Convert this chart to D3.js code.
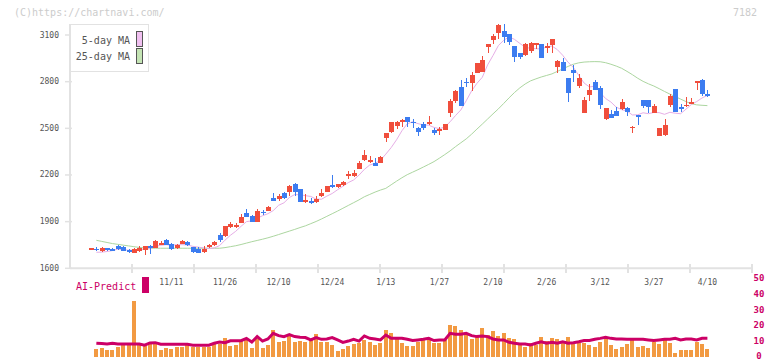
<!DOCTYPE html>
<html><head><meta charset="utf-8">
<script src="https://cdn.jsdelivr.net/npm/d3@7"></script>
<style>body{margin:0;background:#fff}svg{display:block}text{font-family:"DejaVu Sans Mono",monospace}</style>
</head><body><svg id="c" width="772" height="361"></svg>
<script>
// ---- data ----
const openP = [1727,1726,1713,1730,1724,1743,1735,1720,1700,1711, 1718,1741,1730,1756,1782,1756,1730,1756,1767,1737,
 1726,1705,1737,1750,1816,1808,1867,1865,1893,1955, 1936,1896,1962,1970,2054,2046,2084,2089,2142,2110,
 2028,2035,2028,2065,2093,2138,2125,2138,2195,2193, 2238,2296,2290,2279,2279,2438,2476,2517,2539,2571,
 2541,2504,2528,2526,2489,2485,2489,2601,2676,2766, 2799,2793,2858,2860,3025,3068,3111,3126,3107,3029,
 2987,2972,2997,3040,3042,3022,3036,2896,2928,2824, 2875,2774,2601,2714,2800,2761,2558,2592,2611,2622,
 2629,2505,2586,2682,2682,2601,2453,2457,2650,2753, 2636,2646,2663,2790,2811,2719];
const highP = [1731,1735,1739,1732,1728,1750,1743,1726,1733,1741, 1743,1750,1780,1775,1786,1760,1758,1779,1775,1737,
 1737,1741,1758,1777,1825,1872,1898,1893,1951,1983, 1940,1981,1975,2000,2084,2076,2092,2138,2148,2112,
 2076,2052,2067,2110,2131,2200,2142,2161,2224,2232, 2288,2361,2322,2309,2320,2470,2541,2547,2560,2571,
 2560,2510,2539,2579,2504,2510,2528,2689,2746,2811, 2826,2860,2920,2965,3042,3107,3171,3171,3107,3029,
 2987,3047,3055,3047,3042,3047,3072,2939,2954,2824, 2907,2847,2701,2785,2811,2772,2633,2618,2639,2689,
 2639,2515,2586,2682,2682,2656,2504,2560,2719,2753, 2656,2699,2693,2806,2817,2746];
const lowP = [1725,1713,1707,1713,1716,1720,1711,1697,1700,1707, 1686,1692,1730,1750,1748,1720,1724,1754,1741,1701,
 1698,1698,1733,1745,1769,1803,1857,1857,1893,1928, 1896,1896,1943,1966,2032,2035,2046,2067,2067,2026,
 2022,2015,2022,2058,2091,2118,2116,2131,2174,2187, 2238,2292,2275,2258,2277,2412,2470,2498,2510,2510,
 2500,2451,2491,2519,2457,2457,2487,2575,2661,2646, 2768,2742,2858,2860,2987,3042,3072,3051,3038,2928,
 2944,2968,2987,3008,2950,2987,2987,2854,2871,2671, 2800,2757,2601,2677,2746,2622,2554,2564,2577,2618,
 2581,2468,2521,2629,2597,2601,2448,2453,2639,2607, 2605,2635,2656,2746,2710,2699];
const closeP = [1729,1722,1730,1717,1721,1726,1713,1703,1724,1730, 1743,1730,1775,1760,1750,1726,1750,1775,1750,1705,
 1700,1726,1752,1771,1782,1872,1885,1878,1932,1932, 1900,1968,1958,1996,2035,2067,2050,2129,2089,2028,
 2041,2022,2046,2084,2129,2123,2142,2155,2206,2213, 2279,2328,2294,2260,2316,2470,2541,2541,2554,2539,
 2537,2478,2504,2541,2468,2498,2528,2676,2740,2646, 2794,2843,2920,2939,3042,3094,3164,3089,3053,2961,
 2961,3042,3051,3047,2950,3027,3072,2932,2871,2725, 2854,2824,2682,2747,2746,2650,2633,2568,2581,2669,
 2603,2509,2575,2643,2639,2643,2504,2521,2708,2607, 2631,2650,2667,2806,2721,2714];
const ma5 = [null,1703,1704,1708,1714,1723,1721,1716,1717,1719, 1723,1726,1740,1748,1752,1748,1752,1752,1750,1741,
 1736,1731,1727,1731,1746,1781,1812,1838,1870,1900, 1905,1922,1938,1951,1971,2005,2021,2055,2074,2073,
 2067,2062,2045,2044,2064,2081,2105,2127,2151,2168, 2199,2236,2264,2275,2295,2334,2376,2426,2484,2529,
 2542,2530,2522,2520,2506,2498,2508,2542,2582,2618, 2677,2740,2789,2828,2908,2968,3032,3066,3088,3072,
 3046,3021,3014,3012,3010,3023,3029,3006,2970,2925, 2891,2841,2791,2766,2771,2730,2692,2669,2636,2620,
 2611,2586,2587,2600,2594,2602,2601,2590,2603,2597, 2594,2623,2653,2672,2695,2712];
const ma25 = [null,1780,1773,1766,1759,1754,1749,1744,1739,1734, 1731,1730,1729,1729,1729,1729,1729,1729,1729,1729,
 1729,1729,1729,1729,1729,1733,1739,1745,1753,1762, 1771,1779,1787,1796,1806,1817,1828,1839,1850,1862,
 1873,1887,1901,1917,1934,1951,1968,1986,2004,2022, 2040,2060,2075,2090,2103,2114,2137,2160,2182,2202,
 2218,2234,2251,2268,2286,2308,2331,2355,2382,2407, 2432,2462,2495,2527,2560,2593,2625,2660,2696,2730,
 2760,2785,2805,2818,2830,2840,2850,2866,2882,2898, 2912,2921,2926,2928,2929,2928,2922,2912,2900,2886,
 2866,2845,2822,2802,2786,2772,2755,2737,2720,2704, 2688,2672,2658,2651,2648,2646];
const volume = [null,5.4,6.0,4.8,4.8,6.5,7.5,7.5,35.4,7.5, 6.9,8.2,8.6,4.8,6.0,5.4,6.7,6.7,7.5,6.5,
 6.5,6.5,6.5,8.2,8.6,12.3,7.1,7.7,10.9,11.9, 6.0,11.3,6.0,7.9,17.2,9.8,10.5,13.4,9.8,10.3,
 9.8,11.3,14.7,9.8,9.8,7.7,4.0,5.0,7.1,8.4, 8.8,10.9,9.8,7.7,9.0,17.2,15.1,12.6,9.0,7.1,
 7.1,9.8,10.9,10.9,9.2,9.2,10.9,20.3,19.7,17.2, 15.1,11.3,14.0,18.2,14.0,16.5,13.4,15.5,12.3,11.5,
 8.4,6.7,8.8,7.7,13.0,10.2,12.3,11.5,8.8,13.0, 8.8,8.8,8.8,7.7,6.7,9.8,11.5,7.7,5.2,6.7,
 8.4,11.9,6.7,7.3,6.0,9.8,8.4,10.9,8.8,2.5, 4.6,4.6,4.6,9.8,8.4,5.2];
const aiPredict = [null,8.8,8.6,8.4,8.8,8.4,8.4,8.4,8.4,8.4, 7.6,9.0,9.2,8.2,8.2,8.2,8.2,8.2,8.2,7.6,
 7.6,7.6,7.6,8.8,9.6,9.2,10.4,10.4,10.4,11.9, 9.6,13.0,10.2,11.5,15.1,13.6,13.0,14.2,13.0,12.6,
 12.4,10.9,12.4,11.3,11.5,12.4,10.9,9.4,10.2,11.3, 10.2,13.4,11.9,11.5,10.9,14.0,11.9,11.9,11.9,11.3,
 10.5,10.9,11.3,11.9,10.5,10.9,10.9,15.1,14.5,14.5, 15.1,13.6,13.0,13.4,13.0,11.5,10.9,10.9,9.4,8.8,
 8.4,8.4,7.7,8.8,9.8,8.8,9.4,8.8,9.8,8.8, 9.2,9.8,10.5,10.5,11.3,11.9,12.6,11.9,11.5,11.5,
 11.3,11.3,11.3,11.3,10.9,10.5,10.9,11.3,11.3,11.9, 10.9,11.5,11.5,10.9,11.9,11.9];
const dateLabels = ["11/11","11/26","12/10","12/24","1/13","1/27","2/10","2/26","3/12","3/27","4/10"];
const dateLabelIdx = [15,25,35,45,55,65,75,85,95,105,115];
const priceTicks = [1600,1900,2200,2500,2800,3100];
const volTicks = [0,10,20,30,40,50];

// ---- drawing ----
const svg = d3.select("#c");
svg.append("rect").attr("width",772).attr("height",361).attr("fill","#fff");
const x = d3.scaleLinear().domain([0,115]).range([91,707.4]);
const y = d3.scaleLinear().domain([1600,3100]).range([268.3,35]);
const yv = d3.scaleLinear().domain([0,50]).range([357.3,277.7]);
const xt = d3.scaleLinear().domain([0,11]).range([70,752]);
const RED="#f04e3c", BLUE="#3c7cf0", AXIS="#e2e2e2";

// axes lines
svg.append("line").attr("x1",70).attr("x2",70).attr("y1",24).attr("y2",268.3).attr("stroke",AXIS).attr("stroke-width",2);
svg.append("line").attr("x1",70).attr("x2",752).attr("y1",268.3).attr("y2",268.3).attr("stroke",AXIS).attr("stroke-width",2);
svg.append("g").selectAll("line").data(d3.range(1,12)).join("line")
  .attr("x1",d=>xt(d)).attr("x2",d=>xt(d)).attr("y1",264).attr("y2",273).attr("stroke",AXIS).attr("stroke-width",2);
svg.append("g").selectAll("line").data(priceTicks).join("line")
  .attr("x1",65).attr("x2",72).attr("y1",d=>y(d)).attr("y2",d=>y(d)).attr("stroke",AXIS).attr("stroke-width",1.5);
svg.append("g").selectAll("text").data(priceTicks).join("text")
  .attr("x",59).attr("y",d=>y(d)).attr("text-anchor","end").attr("dominant-baseline","central")
  .attr("font-size","8px").attr("fill","#555").text(d=>d);
svg.append("g").selectAll("text").data(dateLabels).join("text")
  .attr("x",(d,k)=>x(dateLabelIdx[k])).attr("y",282).attr("text-anchor","middle").attr("dominant-baseline","central")
  .attr("font-size","8px").attr("fill","#555").text(d=>d);

// MA lines
const idx = d3.range(closeP.length);
const maLine = arr => d3.line().defined(i=>arr[i]!=null).x(i=>x(i)).y(i=>y(arr[i]))(idx);
svg.append("path").attr("d",maLine(ma25)).attr("fill","none").attr("stroke","#acd6a0").attr("stroke-width",1);
svg.append("path").attr("d",maLine(ma5)).attr("fill","none").attr("stroke","#e6aee6").attr("stroke-width",1);

// candles
const col = i => closeP[i]>=openP[i]?RED:BLUE;
const cg = svg.append("g").attr("shape-rendering","crispEdges");
cg.selectAll(".w").data(idx).join("rect").attr("class","w")
  .attr("x",i=>Math.round(x(i))).attr("width",1)
  .attr("y",i=>y(highP[i])).attr("height",i=>Math.max(1,y(lowP[i])-y(highP[i]))).attr("fill",col);
cg.selectAll(".b").data(idx).join("rect").attr("class","b")
  .attr("x",i=>Math.round(x(i))-2).attr("width",5)
  .attr("y",i=>y(Math.max(openP[i],closeP[i])))
  .attr("height",i=>Math.max(1.5,Math.abs(y(openP[i])-y(closeP[i])))).attr("fill",col);

// legend
svg.append("rect").attr("x",70.5).attr("y",24.5).attr("width",78).attr("height",47).attr("fill","#fff").attr("stroke","#e2e2e2");
svg.append("text").attr("x",130).attr("y",40.7).attr("text-anchor","end").attr("dominant-baseline","central").attr("font-size","10px").attr("fill","#555").text("5-day MA");
svg.append("text").attr("x",130).attr("y",56.7).attr("text-anchor","end").attr("dominant-baseline","central").attr("font-size","10px").attr("fill","#555").text("25-day MA");
svg.append("rect").attr("x",136.5).attr("y",31.5).attr("width",6).attr("height",15).attr("fill","#f0c0f0").attr("stroke","#555");
svg.append("rect").attr("x",136.5).attr("y",48.5).attr("width",6).attr("height",15).attr("fill","#c4e4b4").attr("stroke","#555");

// header texts
svg.append("text").attr("x",14).attr("y",12).attr("dominant-baseline","central").attr("font-size","10px").attr("fill","#ccc").text("(C)https://chartnavi.com/");
svg.append("text").attr("x",757).attr("y",12).attr("text-anchor","end").attr("dominant-baseline","central").attr("font-size","10px").attr("fill","#ccc").text("7182");

// volume + AI predict
const vIdx = idx.filter(i=>volume[i]!=null);
svg.append("g").attr("shape-rendering","crispEdges").selectAll("rect").data(vIdx).join("rect")
  .attr("x",i=>Math.round(x(i))-2).attr("width",4)
  .attr("y",i=>yv(volume[i])).attr("height",i=>yv(0)-yv(volume[i])).attr("fill","#f29a42");
svg.append("path").attr("d",d3.line().defined(i=>aiPredict[i]!=null).x(i=>x(i)).y(i=>yv(aiPredict[i]))(idx))
  .attr("fill","none").attr("stroke","#cc0066").attr("stroke-width",3);
svg.append("g").selectAll("text").data(volTicks).join("text")
  .attr("x",759).attr("y",d=>Math.min(yv(d),356)).attr("text-anchor","middle").attr("dominant-baseline","central")
  .attr("font-size","9px").attr("font-weight","bold").attr("fill","#cc0066").text(d=>d);
svg.append("text").attr("x",76).attr("y",286).attr("dominant-baseline","central").attr("font-size","10px").attr("fill","#cc0066").text("AI-Predict");
svg.append("rect").attr("x",142).attr("y",277).attr("width",7).attr("height",16).attr("fill","#cc0066");
</script></body></html>
